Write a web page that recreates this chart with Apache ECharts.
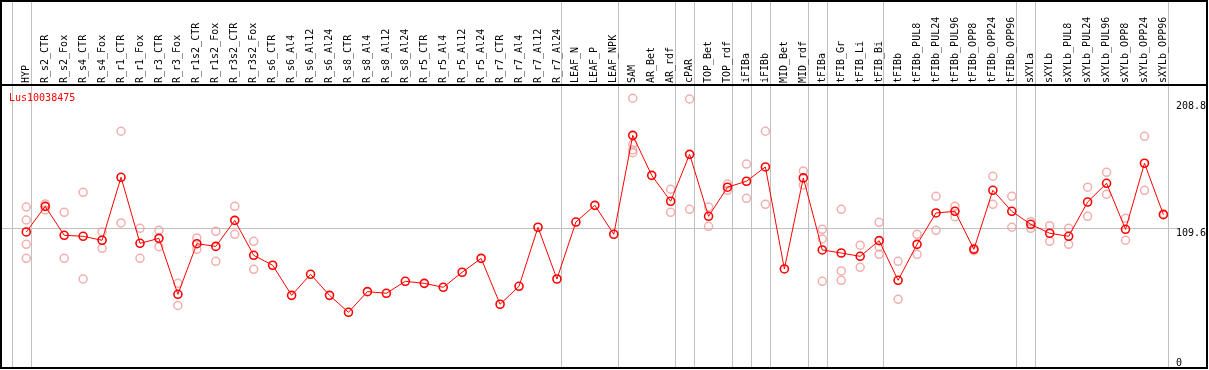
<!DOCTYPE html>
<html><head><meta charset="utf-8">
<style>html,body{margin:0;padding:0;background:#fff}#c{width:1209px;height:370px}</style>
<script src="https://cdn.jsdelivr.net/npm/echarts@6/dist/echarts.min.js"></script>
</head><body><div id="c"></div>
<script>
const categories = ['HYP','R_s2_CTR','R_s2_Fox','R_s4_CTR','R_s4_Fox','R_r1_CTR','R_r1_Fox','R_r3_CTR','R_r3_Fox','R_r1s2_CTR','R_r1s2_Fox','R_r3s2_CTR','R_r3s2_Fox','R_s6_CTR','R_s6_Al4','R_s6_Al12','R_s6_Al24','R_s8_CTR','R_s8_Al4','R_s8_Al12','R_s8_Al24','R_r5_CTR','R_r5_Al4','R_r5_Al12','R_r5_Al24','R_r7_CTR','R_r7_Al4','R_r7_Al12','R_r7_Al24','LEAF_N','LEAF_P','LEAF_NPK','SAM','AR_Bet','AR_rdf','cPAR','TOP_Bet','TOP_rdf','iFIBa','iFIBb','MID_Bet','MID_rdf','tFIBa','tFIB_Gr','tFIB_Li','tFIB_Bi','tFIBb','tFIBb_PUL8','tFIBb_PUL24','tFIBb_PUL96','tFIBb_OPP8','tFIBb_OPP24','tFIBb_OPP96','sXYLa','sXYLb','sXYLb_PUL8','sXYLb_PUL24','sXYLb_PUL96','sXYLb_OPP8','sXYLb_OPP24','sXYLb_OPP96'];
const means = [106.7,126.8,104.1,103.3,100.2,149.6,97.8,101.7,57.8,97.5,
  95.4,115.8,88.4,80.6,57.0,73.5,57.0,43.7,59.9,58.6,
  68.0,66.4,63.3,75.1,86.0,50.0,64.1,110.4,69.8,114.5,
  127.6,104.9,182.5,151.1,130.8,167.6,119.0,141.8,146.5,157.7,
  77.7,149.1,92.6,90.2,87.6,99.9,68.8,97.0,121.6,122.9,
  93.1,139.4,122.9,112.7,105.7,103.3,130.2,144.9,108.8,160.6,120.3];
const replicates = [
  [126.3,116.1,97.0,86.0],[128.7,124.0],[122.1,86.0],[137.8,69.8],[106.7,93.9],
  [185.7,113.8],[109.6,86.0],[108.0,95.2],[66.4,49.1],[102.0,93.1],
  [107.2,83.7],[126.8,104.9],[99.4,77.4],[],[],[],[],[],[],[],
  [],[],[],[],[],[],[],[],[],[],
  [],[],[211.6,175.5,171.0,168.9],[],[140.2,122.1],[211.0,124.5],[126.3,111.1],[144.3,139.4],[160.0,133.1],[185.7,128.4],
  [],[154.5,143.6],[108.8,101.2,68.0],[124.5,76.1,68.8],[96.3,79.0],[114.3,94.9,89.2],[83.7,53.9],[104.9,89.2],[134.7,108.0],[126.8,118.7],
  [93.9,92.0],[150.4,128.4],[134.7,110.4],[114.8,109.6],[111.6,99.4],[109.6,97.0],[141.8,119.0],[153.5,136.3],[117.4,100.2],[181.7,139.4],[121.0]
];
const yTicksTop = [109.6, 208.8];
const yTicksBottom = [0];
const gridValue = 109.6;
const groupBreaksAfter = [-1,0,28,31,34,35,37,38,39,41,42,45,52,53,60];
const titleText = 'Lus10038475';

const FONT = 'DejaVu Sans Mono';
const repData = [];
replicates.forEach((arr, i) => arr.forEach(v => repData.push([i, v])));

const chart = echarts.init(document.getElementById('c'), null, {renderer: 'canvas'});
const yBase = {type: 'value', min: 0, max: 221.2, position: 'right', splitLine: {show: false}, axisLine: {show: false}, axisTick: {show: false}};
chart.setOption({
  animation: false,
  title: {text: titleText, left: 9, top: 93, padding: 0, textStyle: {color: '#ff0000', fontSize: 10, fontWeight: 'normal', fontFamily: FONT}},
  grid: {left: 16.8, width: 1159, top: 86, height: 282},
  xAxis: {type: 'category', data: categories, position: 'top', boundaryGap: true,
    axisLine: {show: false}, axisTick: {show: false}, splitLine: {show: false},
    axisLabel: {interval: 0, rotate: 90, margin: 3, color: '#000', fontSize: 10, fontFamily: FONT}},
  yAxis: [
    Object.assign({}, yBase, {axisLabel: {customValues: yTicksTop, verticalAlign: 'top', margin: 3, color: '#000', fontSize: 10, fontFamily: FONT}}),
    Object.assign({}, yBase, {axisLabel: {customValues: yTicksBottom, verticalAlign: 'bottom', margin: 3, color: '#000', fontSize: 10, fontFamily: FONT}})
  ],
  series: [
    {type: 'scatter', data: repData, symbol: 'circle', symbolSize: 8,
      itemStyle: {color: 'rgba(0,0,0,0)', borderColor: '#f09a9a', borderWidth: 1.5}, silent: true, z: 2},
    {type: 'line', data: means, symbol: 'circle', symbolSize: 8, showSymbol: true,
      lineStyle: {color: '#ff0000', width: 1}, itemStyle: {color: 'rgba(0,0,0,0)', borderColor: '#ff0000', borderWidth: 1.6}, silent: true, z: 3}
  ]
});

const p0 = chart.convertToPixel({xAxisIndex: 0}, 0);
const p1 = chart.convertToPixel({xAxisIndex: 0}, 1);
const step = p1 - p0;
const gy = chart.convertToPixel({yAxisIndex: 0}, gridValue);
const graphics = [];
groupBreaksAfter.forEach(k => {
  const x = Math.round(p0 + k * step + step * 0.23) + 0.5;
  graphics.push({type: 'line', shape: {x1: x, y1: 0, x2: x, y2: 368}, style: {stroke: '#c0c0c0', lineWidth: 1}, z: 0, silent: true});
});
graphics.push({type: 'line', shape: {x1: 1, y1: Math.round(gy) + 0.5, x2: 1177, y2: Math.round(gy) + 0.5}, style: {stroke: '#c0c0c0', lineWidth: 1}, z: 0, silent: true});
graphics.push({type: 'rect', shape: {x: 1, y: 1, width: 1206, height: 367}, style: {fill: null, stroke: '#000', lineWidth: 2}, z: 10, silent: true});
graphics.push({type: 'line', shape: {x1: 1, y1: 85, x2: 1207, y2: 85}, style: {stroke: '#000', lineWidth: 2}, z: 10, silent: true});
chart.setOption({graphic: graphics});
</script></body></html>
